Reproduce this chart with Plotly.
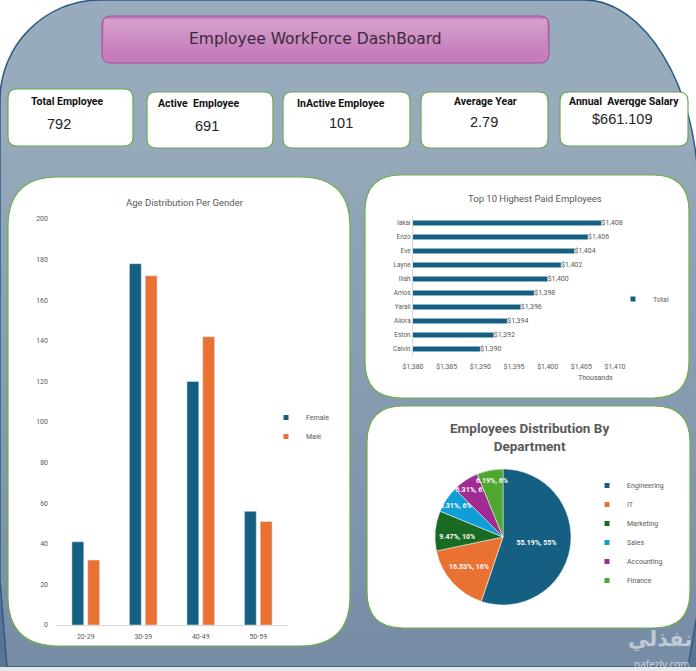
import plotly.graph_objects as go

# ---------------- data ----------------
age_groups = ["20-29", "30-39", "40-49", "50-59"]
female_counts = [41, 178, 120, 56]
male_counts = [32, 172, 142, 51]
age_ticks = [0, 20, 40, 60, 80, 100, 120, 140, 160, 180, 200]

top_names = ["Iakai", "Enzo", "Eve", "Layne", "Iliah", "Amos", "Yarali", "Aliora", "Eston", "Calvin"]
top_salary_k = [1408, 1406, 1404, 1402, 1400, 1398, 1396, 1394, 1392, 1390]
salary_ticks = [1380, 1385, 1390, 1395, 1400, 1405, 1410]

departments = ["Engineering", "IT", "Marketing", "Sales", "Accounting", "Finance"]
dept_share = [55.19, 16.53, 9.47, 6.31, 6.31, 6.19]
dept_share_rounded = [55, 16, 10, 6, 6, 6]

kpi_titles = ["Total Employee", "Active  Employee", "InActive Employee", "Average Year", "Annual  Averqge Salary"]
kpi_values = ["792", "691", "101", "2.79", "$661.109"]

# ---------------- helpers ----------------
W, H = 696, 671
def fx(x): return x / W
def fy(y): return 1 - y / H
def P(x, y): return f"{fx(x):.5f},{fy(y):.5f}"

def rrect(x0, y0, x1, y1, r):
    return (f"M{P(x0+r,y0)} L{P(x1-r,y0)} Q{P(x1,y0)} {P(x1,y0+r)} "
            f"L{P(x1,y1-r)} Q{P(x1,y1)} {P(x1-r,y1)} L{P(x0+r,y1)} "
            f"Q{P(x0,y1)} {P(x0,y1-r)} L{P(x0,y0+r)} Q{P(x0,y0)} {P(x0+r,y0)} Z")

def mix(c0, c1, t):
    t = max(0, min(1, t))
    return "rgb(%d,%d,%d)" % tuple(round(a + (b - a) * t) for a, b in zip(c0, c1))

def grad(y):
    return mix((0x9d, 0xb0, 0xc0), (0x77, 0x8d, 0xa5), y / 666)

def lx(y): return 0 if y < 580 else 7 * (y - 580) / 87
def rx(y): return 697 if y < 615 else 697 - 9 * (y - 615) / 52

TXT = "#595959"
FONT = "Roboto, Open Sans, sans-serif"
COLORS = ["#156082", "#E97132", "#196B24", "#0F9ED5", "#A02B93", "#4EA72E"]

shapes = []
shapes.append(dict(type="rect", xref="paper", yref="paper", x0=0, x1=1, y0=fy(667), y1=fy(560),
                   fillcolor="#5a7594", line_width=0, layer="below"))
main_path = (f"M{P(7,667)} L{P(0,580)} L{P(0,100)} C{P(0,45)} {P(45,0)} {P(100,0)} "
             f"L{P(585,0)} C{P(643,0)} {P(698,85)} {P(698,190)} L{P(697,615)} L{P(688,667)} Z")
shapes.append(dict(type="path", xref="paper", yref="paper", path=main_path,
                   fillcolor=grad(90), line_width=0, layer="below"))
step = 20
y = 150
while y < 667:
    ya, yb = y, min(y + step + 1, 667)
    pth = f"M{P(lx(ya),ya)} L{P(rx(ya),ya)} L{P(rx(yb),yb)} L{P(lx(yb),yb)} Z"
    shapes.append(dict(type="path", xref="paper", yref="paper", path=pth,
                       fillcolor=grad(ya + step / 2), line_width=0, layer="below"))
    y += step
shapes.append(dict(type="path", xref="paper", yref="paper", path=main_path,
                   fillcolor="rgba(0,0,0,0)", line=dict(color="#2e5b86", width=1.5), layer="below"))
shapes.append(dict(type="rect", xref="paper", yref="paper", x0=0, x1=1, y0=0, y1=fy(667),
                   fillcolor="#e6e8ea", line_width=0, layer="below"))

# title box with a soft vertical gradient
shapes.append(dict(type="path", xref="paper", yref="paper", path=rrect(102, 16, 549, 63, 9),
                   fillcolor="#c87fbb", line_width=0, layer="below"))
for i in range(8):
    ya = 19 + i * 5
    yb = ya + 6
    shapes.append(dict(type="rect", xref="paper", yref="paper", x0=fx(104), x1=fx(547),
                       y0=fy(yb), y1=fy(ya), line_width=0, layer="below",
                       fillcolor=mix((0xd4, 0x9d, 0xcc), (0xc6, 0x7c, 0xb9), i / 7)))
shapes.append(dict(type="path", xref="paper", yref="paper", path=rrect(102, 16, 549, 63, 9),
                   fillcolor="rgba(0,0,0,0)", line=dict(color="#9c4f97", width=1), layer="below"))

# KPI cards
cards = [(8, 89, 133, 146), (147, 92, 273, 148), (283, 92, 410, 148), (421, 92, 548, 148), (560, 92, 688, 146)]
for (x0, y0, x1, y1) in cards:
    shapes.append(dict(type="path", xref="paper", yref="paper", path=rrect(x0, y0, x1, y1, 9),
                       fillcolor="white", line=dict(color="#6aa84f", width=1.2), layer="below"))

# chart panels
for (x0, y0, x1, y1, r) in [(8, 177, 350, 646, 50), (365, 175, 689, 398, 36), (367, 406, 690, 628, 36)]:
    shapes.append(dict(type="path", xref="paper", yref="paper", path=rrect(x0, y0, x1, y1, r),
                       fillcolor="white", line=dict(color="#70ad47", width=1.2), layer="below"))

# ---------------- figure ----------------
fig = go.Figure()

fig.add_trace(go.Bar(x=age_groups, y=female_counts, name="Female", marker_color=COLORS[0],
                     xaxis="x", yaxis="y", showlegend=False))
fig.add_trace(go.Bar(x=age_groups, y=male_counts, name="Male", marker_color=COLORS[1],
                     xaxis="x", yaxis="y", showlegend=False))
for nm, c in [("Female", COLORS[0]), ("Male", COLORS[1])]:
    fig.add_trace(go.Scatter(x=[None], y=[None], mode="markers", name=nm, xaxis="x", yaxis="y",
                             marker=dict(symbol="square", size=5, color=c), legend="legend"))

fig.add_trace(go.Bar(x=top_salary_k, y=top_names, orientation="h", name="Total",
                     marker_color=COLORS[0], width=0.38, xaxis="x2", yaxis="y2",
                     texttemplate="$%{x:,}", textposition="outside", cliponaxis=False,
                     textfont=dict(size=7, color=TXT, family=FONT), showlegend=False))
fig.add_trace(go.Scatter(x=[None], y=[None], mode="markers", name="Total", xaxis="x2", yaxis="y2",
                         marker=dict(symbol="square", size=5, color=COLORS[0]), legend="legend2"))

pie_text = [f"{v:.2f}%, {r}%" for v, r in zip(dept_share, dept_share_rounded)]
fig.add_trace(go.Pie(labels=departments, values=dept_share, text=pie_text, texttemplate="%{text}",
                     textposition="inside", insidetextorientation="horizontal",
                     sort=False, direction="clockwise", rotation=0,
                     marker=dict(colors=COLORS, line=dict(color="white", width=0.5)),
                     textfont=dict(size=7, color="white", family=FONT, weight="bold"),
                     domain=dict(x=[fx(435), fx(571)], y=[fy(606), fy(468)]),
                     showlegend=False, hoverinfo="label+percent"))
for nm, c in zip(departments, COLORS):
    fig.add_trace(go.Scatter(x=[None], y=[None], mode="markers", name=nm, xaxis="x", yaxis="y",
                             marker=dict(symbol="square", size=5, color=c), legend="legend3"))

# ---------------- annotations ----------------
ann = []
def A(x, y, text, **font):
    ann.append(dict(xref="paper", yref="paper", x=fx(x), y=fy(y), text=text, showarrow=False,
                    xanchor="center", yanchor="middle", font=font))

A(315, 39, "Employee WorkForce DashBoard", family="DejaVu Sans", size=15.5, color="#3b2a3b")
title_pos = [(67, 102), (198, 103), (341, 103), (485, 102), (624, 101)]
value_pos = [(59, 124), (207, 126), (341, 123), (484, 122), (622, 119)]
for t, v, (tx, ty), (vx, vy) in zip(kpi_titles, kpi_values, title_pos, value_pos):
    A(tx, ty, f"<b>{t}</b>", family="Roboto, sans-serif", size=10.5, color="#111")
    A(vx, vy, v, family="Liberation Sans, Arial, sans-serif", size=14.5, color="#222")
A(185, 202, "Age Distribution Per Gender", family=FONT, size=9.5, color=TXT)
A(535, 199, "Top 10 Highest Paid Employees", family=FONT, size=9.5, color=TXT)
A(595, 378, "Thousands", family=FONT, size=7, color=TXT)
A(529, 437, "<b>Employees Distribution By<br>Department</b>", family=FONT, size=13.5, color=TXT)
A(660, 638, "<b>نفذلي</b>", family="Noto Sans, DejaVu Sans", size=21, color="rgba(255,255,255,0.55)")
A(662, 664, "nafezly.com", family="Noto Sans", size=10, color="rgba(255,255,255,0.6)")

legend_common = dict(bgcolor="rgba(0,0,0,0)", font=dict(family=FONT, size=7, color=TXT),
                     itemclick=False, itemdoubleclick=False, tracegroupgap=0,
                     xanchor="left", yanchor="middle")

fig.update_layout(
    width=W, height=H, margin=dict(l=0, r=0, t=0, b=0, pad=0, autoexpand=False),
    paper_bgcolor="white", plot_bgcolor="rgba(0,0,0,0)",
    shapes=shapes, annotations=ann,
    barmode="group", bargap=0.45, bargroupgap=0.25,
    font=dict(family=FONT, color=TXT),
    uniformtext=dict(minsize=7, mode="show"),
    xaxis=dict(domain=[fx(57), fx(287)], anchor="y", showline=True, linecolor="#d9d9d9",
               showgrid=False, ticks="", tickfont=dict(size=7, color=TXT), ticklabelstandoff=5,
               fixedrange=True),
    yaxis=dict(domain=[fy(625), fy(219)], anchor="x", range=[0, 200], tickvals=age_ticks,
               showgrid=False, zeroline=False, showline=False, ticks="",
               tickfont=dict(size=7, color=TXT), ticklabelstandoff=8, fixedrange=True),
    xaxis2=dict(domain=[fx(413), fx(615)], anchor="y2", range=[1380, 1410], tickvals=salary_ticks,
                ticktext=[f"${v:,}" for v in salary_ticks], showgrid=False, zeroline=False,
                showline=False, ticks="", tickfont=dict(size=7, color=TXT), ticklabelstandoff=5,
                fixedrange=True),
    yaxis2=dict(domain=[fy(356), fy(216)], anchor="x2", autorange="reversed", showline=True,
                linecolor="#d9d9d9", showgrid=False, ticks="", tickfont=dict(size=6.5, color=TXT),
                fixedrange=True),
    legend=dict(x=fx(266), y=fy(427), **legend_common),
    legend2=dict(x=fx(613), y=fy(299), **legend_common),
    legend3=dict(x=fx(587), y=fy(533), **legend_common),
)

fig.write_html("out.html", config={"displayModeBar": False},
               post_script="document.body.style.margin='0';document.body.style.overflow='hidden';")
